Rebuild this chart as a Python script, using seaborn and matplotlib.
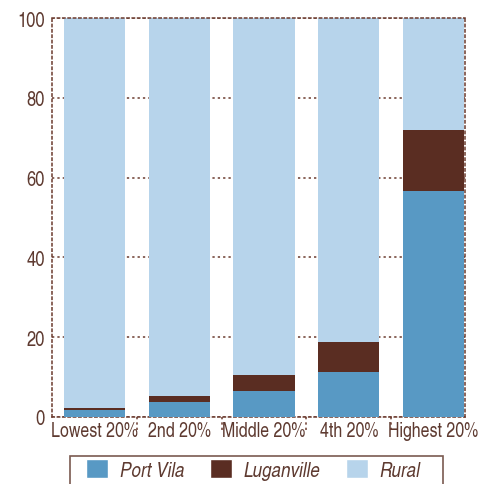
import matplotlib
matplotlib.use('Agg')
import matplotlib.pyplot as plt
import seaborn as sns
import numpy as np
from matplotlib.patches import Patch, Rectangle

# Data: share of each income quintile by area (%)
quintiles = ['Lowest 20%', '2nd 20%', 'Middle 20%', '4th 20%', 'Highest 20%']
port_vila = [1.7, 3.7, 6.5, 11.2, 56.7]
luganville = [0.6, 1.5, 4.0, 7.5, 15.3]
rural = [97.7, 94.8, 89.5, 81.3, 28.0]

c_pv = '#5899c4'
c_lug = '#5a2d22'
c_rur = '#b7d4eb'
c_txt = '#5e3a30'
c_line = '#6b3a2e'

sns.set_style('white')
plt.rcParams['font.family'] = ['TeX Gyre Heros Cn', 'DejaVu Sans']

fig = plt.figure(figsize=(4.89, 4.85), dpi=100)
ax = fig.add_axes([52 / 489, 67 / 485, 413 / 489, 399 / 485])

pv = np.array(port_vila)
lug_top = pv + np.array(luganville)
total = lug_top + np.array(rural)

# stacked bars by overlaying cumulative totals
bar_kw = dict(width=0.72, saturation=1, linewidth=0, ax=ax)
sns.barplot(x=quintiles, y=total, color=c_rur, zorder=2, **bar_kw)
sns.barplot(x=quintiles, y=lug_top, color=c_lug, zorder=3, **bar_kw)
sns.barplot(x=quintiles, y=pv, color=c_pv, zorder=4, **bar_kw)

ax.set_xlim(-0.5, 4.37)
ax.set_ylim(0, 100)
ax.set_yticks([0, 20, 40, 60, 80, 100])
ax.yaxis.grid(True, linestyle=(0, (1.5, 2)), color=c_line, linewidth=1.1, zorder=0)
ax.xaxis.grid(False)
ax.set_axisbelow(True)

for s in ax.spines.values():
    s.set_linestyle((0, (1.5, 2)))
    s.set_color(c_line)
    s.set_linewidth(1.1)

ax.tick_params(axis='both', length=0, colors=c_txt)
ax.tick_params(axis='y', pad=5, labelsize=14.5)
ax.tick_params(axis='x', pad=3, labelsize=14)
ax.set_xlabel('')
ax.set_ylabel('')

# dotted separators between categories below the axis
for b in np.arange(0.5, len(quintiles) - 1, 1.0):
    ax.plot([b, b], [0, -3.2], linestyle=(0, (1.5, 2)), color=c_line,
            linewidth=1.1, clip_on=False)

handles = [Patch(facecolor=c_pv, label='Port Vila'),
           Patch(facecolor=c_lug, label='Luganville'),
           Patch(facecolor=c_rur, label='Rural')]
leg = fig.legend(handles=handles, loc='upper left', ncol=3,
                 bbox_to_anchor=(86 / 489, 25 / 485),
                 fontsize=15, frameon=False,
                 handlelength=1.06, handleheight=1.06, handletextpad=0.58,
                 columnspacing=1.2, borderpad=0, borderaxespad=0)
for t in leg.get_texts():
    t.set_color(c_txt)
    t.set_fontstyle('italic')

# legend box, running off the bottom edge as in the original
fig.add_artist(Rectangle((70 / 489, -0.05), 373 / 489, 28 / 485 + 0.05,
                         transform=fig.transFigure, fill=False,
                         edgecolor='#7a5a50', linewidth=1.2, clip_on=False))

fig.savefig('out.png', dpi=100)
